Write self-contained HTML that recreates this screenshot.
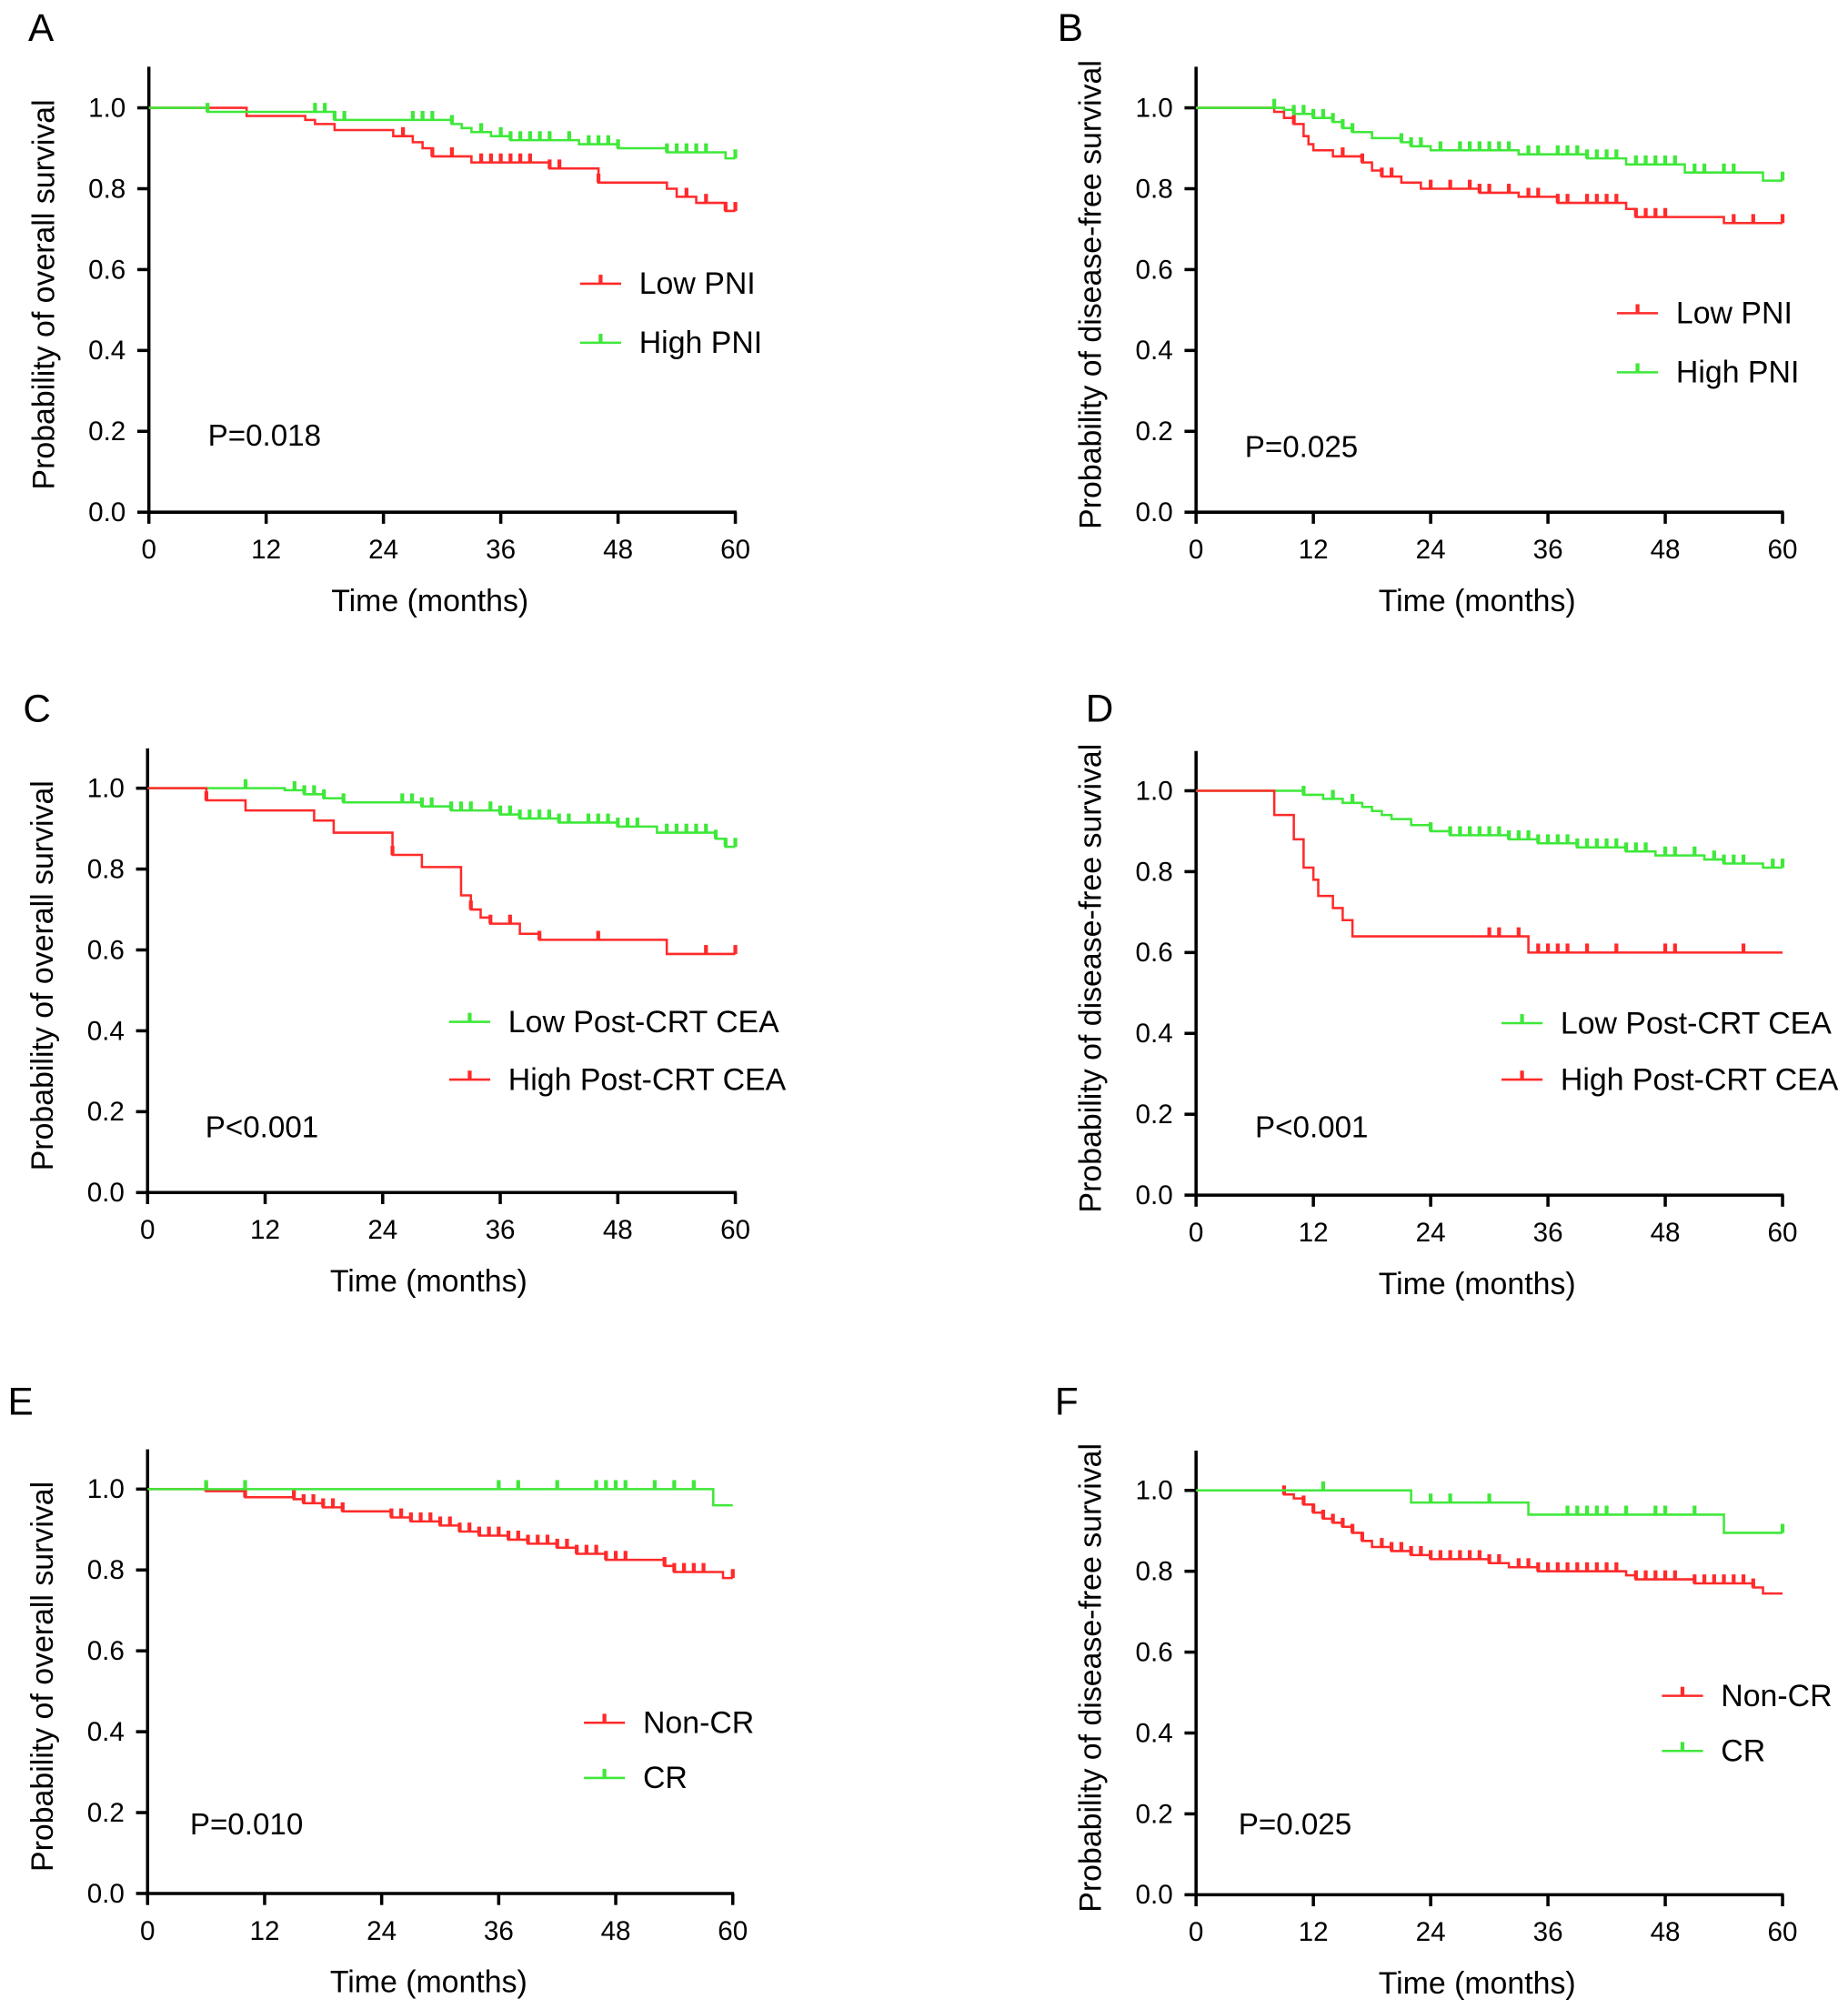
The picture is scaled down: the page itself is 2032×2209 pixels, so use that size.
<!DOCTYPE html>
<html><head><meta charset="utf-8"><style>
html,body{margin:0;padding:0;background:#fff}
svg{display:block;font-family:"Liberation Sans",Arial,sans-serif}
</style></head><body>
<svg id="fig" width="2032" height="2209" viewBox="0 0 1440 1565" preserveAspectRatio="none" xmlns="http://www.w3.org/2000/svg"></svg>
<script>
// ---- data: step curves [time, survival] and censor times ----
const xTicks = [0,12,24,36,48,60];
const yTicks = [0.0,0.2,0.4,0.6,0.8,1.0];

const aLowSteps = [[0,1],[10,0.98],[16,0.97],[17,0.96],[19,0.945],[25,0.93],[27,0.915],[28,0.9],[29,0.88],[33,0.865],[41,0.85],[46,0.815],[53,0.8],[54,0.78],[56,0.765],[59,0.745]];
const aLowCens = [26,29,31,34,35,36,37,38,39,41,42,46,55,57,59,60];
const aHighSteps = [[0,1],[6,0.99],[19,0.97],[31,0.96],[32,0.95],[33,0.94],[35,0.93],[37,0.92],[44,0.91],[48,0.9],[53,0.89],[59,0.875]];
const aHighCens = [6,17,18,19,20,27,28,29,31,34,36,37,38,39,40,41,43,45,46,47,48,53,54,55,56,57,60];

const bLowSteps = [[0,1],[8,0.99],[9,0.975],[10,0.96],[11,0.93],[11.5,0.91],[12,0.895],[14,0.88],[17,0.865],[18,0.845],[19,0.83],[21,0.815],[23,0.8],[29,0.79],[33,0.78],[37,0.765],[44,0.75],[45,0.73],[54,0.715]];
const bLowCens = [10,15,17,19,20,24,26,28,29,30,32,34,35,37,38,40,41,42,43,45,46,47,48,55,57,60];
const bHighSteps = [[0,1],[9,0.995],[10,0.985],[12,0.975],[14,0.965],[15,0.95],[16,0.94],[18,0.925],[21,0.915],[22,0.905],[24,0.895],[33,0.885],[40,0.875],[44,0.86],[50,0.84],[58,0.82]];
const bHighCens = [8,10,11,12,13,14,15,16,21,22,23,25,27,28,29,30,31,32,34,35,37,38,39,40,41,42,43,45,46,47,48,49,51,52,54,55,60];

const cLowSteps = [[0,1],[14,0.995],[16,0.985],[18,0.975],[20,0.965],[28,0.955],[31,0.945],[36,0.935],[38,0.925],[42,0.915],[48,0.905],[52,0.89],[58,0.875],[59,0.855]];
const cLowCens = [10,15,16,17,18,20,26,27,28,29,31,32,33,35,36,37,38,39,40,41,42,43,45,46,47,48,49,50,53,54,55,56,57,58,59,60];
const cHighSteps = [[0,1],[6,0.97],[10,0.945],[17,0.92],[19,0.89],[25,0.835],[28,0.805],[32,0.735],[33,0.7],[34,0.68],[35,0.665],[38,0.64],[40,0.625],[53,0.59]];
const cHighCens = [6,25,33,35,37,40,46,57,60];

const dLowSteps = [[0,1],[8,1],[11,0.99],[13,0.98],[15,0.97],[17,0.96],[18,0.95],[19,0.94],[20,0.93],[22,0.915],[24,0.9],[26,0.89],[32,0.88],[35,0.87],[39,0.86],[44,0.85],[47,0.84],[52,0.83],[54,0.82],[58,0.81]];
const dLowCens = [11,14,16,24,26,27,28,29,30,31,32,33,34,35,36,37,38,39,40,41,42,43,44,45,46,48,49,51,53,54,55,56,59,60];
const dHighSteps = [[0,1],[8,0.94],[10,0.88],[11,0.81],[12,0.78],[12.5,0.74],[14,0.71],[15,0.68],[16,0.64],[34,0.6]];
const dHighCens = [30,31,33,35,36,37,38,40,43,48,49,56];

const eNonSteps = [[0,1],[6,0.995],[10,0.98],[15,0.975],[16,0.965],[18,0.955],[20,0.945],[25,0.93],[27,0.92],[30,0.91],[32,0.895],[34,0.885],[37,0.875],[39,0.865],[42,0.855],[44,0.84],[47,0.825],[53,0.81],[54,0.795],[59,0.78]];
const eNonCens = [6,10,15,16,17,18,19,20,25,26,27,28,29,30,31,32,33,34,35,36,37,38,39,40,41,42,43,44,45,46,47,48,49,53,54,55,56,57,60];
const eCRSteps = [[0,1],[58,0.96]];
const eCRCens = [6,10,36,38,42,46,47,48,49,52,54,56];

const fNonSteps = [[0,1],[9,0.99],[10,0.98],[11,0.965],[12,0.945],[13,0.93],[14,0.92],[15,0.91],[16,0.895],[17,0.875],[18,0.86],[20,0.85],[22,0.84],[24,0.83],[30,0.82],[32,0.81],[35,0.8],[44,0.79],[45,0.78],[51,0.77],[57,0.76],[58,0.745]];
const fNonCens = [9,11,12,13,14,15,16,17,19,20,21,22,23,24,25,26,27,28,29,30,31,33,34,35,36,37,38,39,40,41,42,43,45,46,47,48,49,51,52,53,54,55,56,57];
const fCRSteps = [[0,1],[22,0.97],[34,0.94],[54,0.895]];
const fCRCens = [13,24,26,30,38,39,40,41,42,44,47,48,51,60];

const RED = "#ff2a2a", GREEN = "#3fe83a";
const panels = [
 {id:"a",letter:"A",lx:22,ly:32,x0:116,x1:573,y1:84,y0:399,top:52,yl:"Probability of overall survival",p:"P=0.018",px:162,py:347,
  series:[{n:"Low PNI",c:RED,s:aLowSteps,k:aLowCens,lgx:452,lgy:221},{n:"High PNI",c:GREEN,s:aHighSteps,k:aHighCens,lgx:452,lgy:267}]},
 {id:"b",letter:"B",lx:824,ly:32,x0:932,x1:1389,y1:84,y0:399,top:52,yl:"Probability of disease-free survival",p:"P=0.025",px:970,py:356,
  series:[{n:"Low PNI",c:RED,s:bLowSteps,k:bLowCens,lgx:1260,lgy:244},{n:"High PNI",c:GREEN,s:bHighSteps,k:bHighCens,lgx:1260,lgy:290}]},
 {id:"c",letter:"C",lx:18,ly:562,x0:115,x1:573,y1:614,y0:929,top:583,yl:"Probability of overall survival",p:"P<0.001",px:160,py:886,
  series:[{n:"Low Post-CRT CEA",c:GREEN,s:cLowSteps,k:cLowCens,lgx:350,lgy:796},{n:"High Post-CRT CEA",c:RED,s:cHighSteps,k:cHighCens,lgx:350,lgy:841}]},
 {id:"d",letter:"D",lx:846,ly:562,x0:932,x1:1389,y1:616,y0:931,top:585,yl:"Probability of disease-free survival",p:"P<0.001",px:978,py:886,
  series:[{n:"Low Post-CRT CEA",c:GREEN,s:dLowSteps,k:dLowCens,lgx:1170,lgy:797},{n:"High Post-CRT CEA",c:RED,s:dHighSteps,k:dHighCens,lgx:1170,lgy:841}]},
 {id:"e",letter:"E",lx:6,ly:1102,x0:115,x1:571,y1:1160,y0:1475,top:1129,yl:"Probability of overall survival",p:"P=0.010",px:148,py:1429,
  series:[{n:"Non-CR",c:RED,s:eNonSteps,k:eNonCens,lgx:455,lgy:1342},{n:"CR",c:GREEN,s:eCRSteps,k:eCRCens,lgx:455,lgy:1385}]},
 {id:"f",letter:"F",lx:822,ly:1102,x0:932,x1:1389,y1:1161,y0:1476,top:1130,yl:"Probability of disease-free survival",p:"P=0.025",px:965,py:1429,
  series:[{n:"Non-CR",c:RED,s:fNonSteps,k:fNonCens,lgx:1295,lgy:1321},{n:"CR",c:GREEN,s:fCRSteps,k:fCRCens,lgx:1295,lgy:1364}]}
];

const NS="http://www.w3.org/2000/svg";
const svg=document.getElementById("fig");
function mk(tag,attrs,parent,text){const e=document.createElementNS(NS,tag);for(const k in attrs)e.setAttribute(k,attrs[k]);if(text!==undefined)e.textContent=text;parent.appendChild(e);return e;}

panels.forEach(P=>{
  const g=mk("g",{},svg);
  
  
  const X=t=>P.x0+(t/60)*(P.x1-P.x0);
  const Y=v=>P.y0-v*(P.y0-P.y1);
  const letter=mk("text",{x:P.lx,y:P.ly,"font-size":30,fill:"#000"},g,P.letter);
  
  
  const ya=mk("line",{x1:P.x0,y1:P.top,x2:P.x0,y2:P.y0,stroke:"#000","stroke-width":2.5},g);
  
  
  const xa=mk("line",{x1:P.x0-1,y1:P.y0,x2:P.x1+1,y2:P.y0,stroke:"#000","stroke-width":2.5},g);
  
  
  yTicks.forEach(v=>{
    mk("line",{x1:P.x0-9,y1:Y(v),x2:P.x0,y2:Y(v),stroke:"#000","stroke-width":2.5},g);
    const t=mk("text",{x:P.x0-18,y:Y(v)+7,"font-size":21,"text-anchor":"end"},g,v.toFixed(1));
    
    
  });
  xTicks.forEach(v=>{
    mk("line",{x1:X(v),y1:P.y0,x2:X(v),y2:P.y0+9,stroke:"#000","stroke-width":2.5},g);
    const t=mk("text",{x:X(v),y:P.y0+36,"font-size":21,"text-anchor":"middle"},g,String(v));
    
    
  });
  const xt=mk("text",{x:P.x0+219,y:P.y0+77,"font-size":24,"text-anchor":"middle"},g,"Time (months)");
  
  
  const cy=(P.top+P.y0)/2+4, cx=P.x0-74;
  const yt=mk("text",{x:cx,y:cy,"font-size":24,"text-anchor":"middle",transform:`rotate(-90 ${cx} ${cy})`},g,P.yl);
  
  
  const pt=mk("text",{x:P.px,y:P.py,"font-size":23.5},g,P.p);
  
  
  P.series.forEach(S=>{
    let d=`M${X(S.s[0][0])},${Y(S.s[0][1])}`;
    for(let i=1;i<S.s.length;i++){d+=` H${X(S.s[i][0])} V${Y(S.s[i][1])}`;}
    d+=` H${X(60)}`;
    const path=mk("path",{d:d,fill:"none",stroke:S.c,"stroke-width":1.8},g);
    
    
    const surv=t=>{let v=S.s[0][1];S.s.forEach(p=>{if(p[0]<=t)v=p[1];});return v;};
    S.k.forEach(t=>{
      const tk=mk("line",{x1:X(t),y1:Y(surv(t))-7,x2:X(t),y2:Y(surv(t)),stroke:S.c,"stroke-width":3},g);
      
      
    });
    const lg=mk("g",{},g);
    
    
    mk("line",{x1:S.lgx,y1:S.lgy,x2:S.lgx+32,y2:S.lgy,stroke:S.c,"stroke-width":1.8},lg);
    mk("line",{x1:S.lgx+16,y1:S.lgy-7,x2:S.lgx+16,y2:S.lgy,stroke:S.c,"stroke-width":3},lg);
    mk("text",{x:S.lgx+46,y:S.lgy+8,"font-size":24},lg,S.n);
  });
});
</script>
</body></html>
